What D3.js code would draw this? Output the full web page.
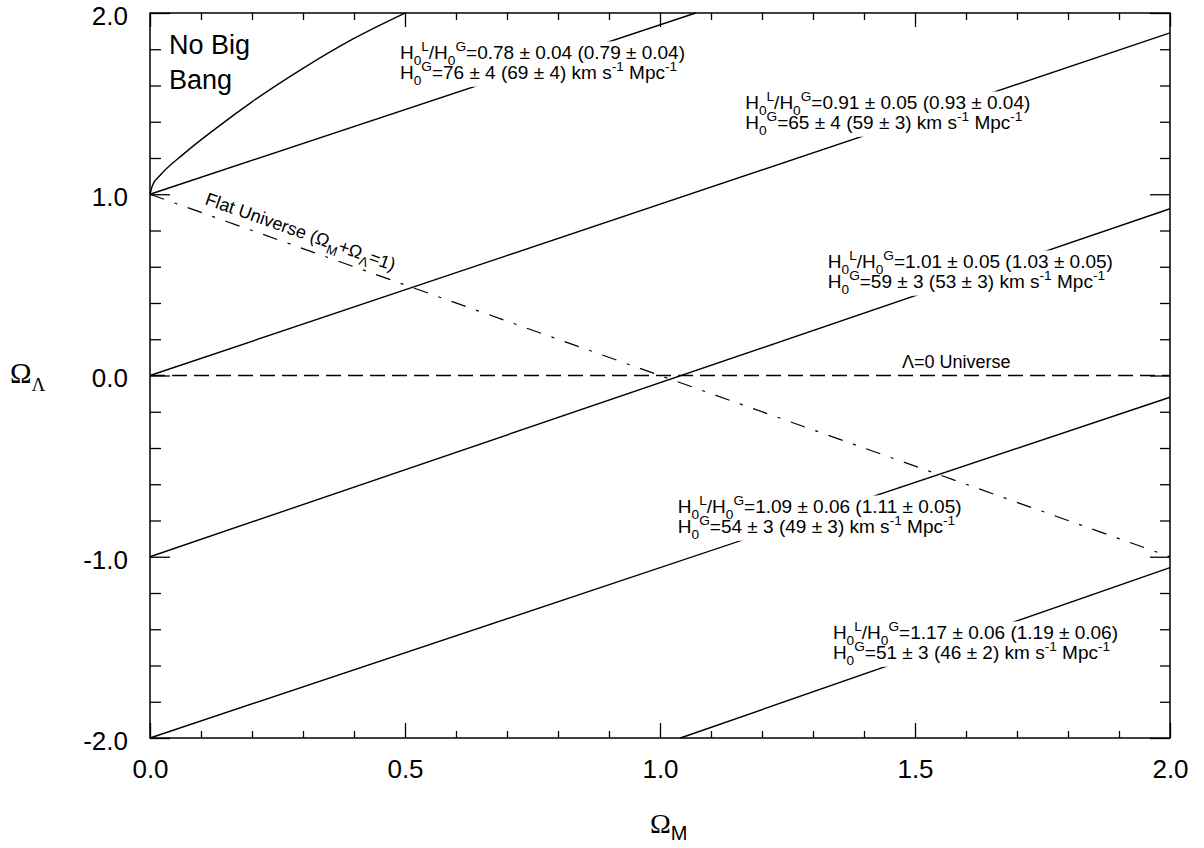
<!DOCTYPE html>
<html>
<head>
<meta charset="utf-8">
<script src="https://cdn.jsdelivr.net/npm/d3@7"></script>
<style>
  body { margin: 0; background: #fff; }
  svg { display: block; }
  text { font-family: "Liberation Sans", Arial, sans-serif; fill: #000; }
</style>
</head>
<body>
<div id="vis"></div>
<script>
const FRAME_WIDTH = 1204;
const FRAME_HEIGHT = 848;
const MARGINS = {left: 150, right: 34, top: 13, bottom: 110};

// data
const OM_MAJOR = [0, 0.5, 1.0, 1.5, 2.0];
const OM_LABELS = ["0.0", "0.5", "1.0", "1.5", "2.0"];
const OM_MINOR = [0.1, 0.2, 0.3, 0.4, 0.6, 0.7, 0.8, 0.9, 1.1, 1.2, 1.3, 1.4, 1.6, 1.7, 1.8, 1.9];
const OL_MAJOR = [-2, -1, 0, 1, 2];
const OL_LABELS = ["-2.0", "-1.0", "0.0", "1.0", "2.0"];
const OL_MINOR = [-1.8, -1.6, -1.4, -1.2, -0.8, -0.6, -0.4, -0.2, 0.2, 0.4, 0.6, 0.8, 1.2, 1.4, 1.6, 1.8];

// "No Big Bang" boundary
const BB_OM = [0, 0.005, 0.02, 0.065, 0.13, 0.2, 0.3, 0.4, 0.5];
const BB_OL = [1, 1.05, 1.105, 1.22, 1.365, 1.51, 1.695, 1.86, 2.0];

// H0 ratio lines (end points)
const RATIO_OM = [[0, 1.07], [0, 2], [0, 2], [0, 2], [1.04, 2]];
const RATIO_OL = [[1, 2], [0, 1.89], [-1, 0.92], [-2, -0.12], [-2, -1.06]];
const RATIO_LINE1 = [
  "H_0^L/H_0^G=0.78 ± 0.04 (0.79 ± 0.04)",
  "H_0^L/H_0^G=0.91 ± 0.05 (0.93 ± 0.04)",
  "H_0^L/H_0^G=1.01 ± 0.05 (1.03 ± 0.05)",
  "H_0^L/H_0^G=1.09 ± 0.06 (1.11 ± 0.05)",
  "H_0^L/H_0^G=1.17 ± 0.06 (1.19 ± 0.06)"
];
const RATIO_LINE2 = [
  "H_0^G=76 ± 4 (69 ± 4) km s^-1 Mpc^-1",
  "H_0^G=65 ± 4 (59 ± 3) km s^-1 Mpc^-1",
  "H_0^G=59 ± 3 (53 ± 3) km s^-1 Mpc^-1",
  "H_0^G=54 ± 3 (49 ± 3) km s^-1 Mpc^-1",
  "H_0^G=51 ± 3 (46 ± 2) km s^-1 Mpc^-1"
];

// reference lines
const FLAT_OM = [0, 2];
const FLAT_OL = [1, -1];
const LAMBDA0_OM = [0, 2];
const LAMBDA0_OL = [0, 0];

// where the labels sit (data units, start of first line)
const LABEL_POS = [[0.49, 1.746], [1.167, 1.47], [1.329, 0.593], [1.035, -0.759], [1.339, -1.454]];

const FRAME =
  d3.select("#vis")
    .append("svg")
      .attr("width", FRAME_WIDTH)
      .attr("height", FRAME_HEIGHT);

const xScale = d3.scaleLinear()
  .domain([0, 2])
  .range([MARGINS.left, FRAME_WIDTH - MARGINS.right]);

const yScale = d3.scaleLinear()
  .domain([-2, 2])
  .range([FRAME_HEIGHT - MARGINS.bottom, MARGINS.top]);

const X0 = xScale(0), X1 = xScale(2), Y0 = yScale(-2), Y1 = yScale(2);

// axes: ticks point inward, majors longer
function axis(gen, vals, size, pad, labels, tx, ty) {
  const g = FRAME.append("g")
    .attr("transform", "translate(" + tx + "," + ty + ")")
    .call(gen.tickValues(vals).tickSize(-size).tickPadding(pad)
      .tickFormat(labels ? (d, i) => labels[i] : ""));
  g.select(".domain").remove();
  g.selectAll("line").attr("stroke-width", 1.3);
  g.selectAll("text")
    .attr("font-family", '"Liberation Sans", Arial, sans-serif')
    .attr("font-size", 26);
  return g;
}
axis(d3.axisLeft(yScale), OL_MAJOR, 20, 22, OL_LABELS, X0, 0)
  .selectAll("text").attr("dy", "0.44em");
axis(d3.axisLeft(yScale), OL_MINOR, 11, 0, null, X0, 0);
axis(d3.axisRight(yScale), OL_MAJOR, 20, 0, null, X1, 0);
axis(d3.axisRight(yScale), OL_MINOR, 10, 0, null, X1, 0);
axis(d3.axisBottom(xScale), OM_MAJOR, 15, 22, OM_LABELS, 0, Y0);
axis(d3.axisBottom(xScale), OM_MINOR, 7, 0, null, 0, Y0);
axis(d3.axisTop(xScale), OM_MAJOR, 14, 0, null, 0, Y1);
axis(d3.axisTop(xScale), OM_MINOR, 7, 0, null, 0, Y1);

// frame
FRAME.append("rect")
  .attr("x", X0).attr("y", Y1)
  .attr("width", X1 - X0).attr("height", Y0 - Y1)
  .attr("fill", "none").attr("stroke", "#000").attr("stroke-width", 1.5);

const line = d3.line()
  .x((d) => xScale(d[0]))
  .y((d) => yScale(d[1]));

const PLOT = FRAME.append("g");

// flat universe and lambda = 0
PLOT.append("path")
  .attr("d", line(FLAT_OM.map((d, i) => [d, FLAT_OL[i]])))
  .attr("fill", "none").attr("stroke", "#000").attr("stroke-width", 1.2)
  .attr("stroke-dasharray", "15,11,3,11");
PLOT.append("path")
  .attr("d", line(LAMBDA0_OM.map((d, i) => [d, LAMBDA0_OL[i]])))
  .attr("fill", "none").attr("stroke", "#000").attr("stroke-width", 1.3)
  .attr("stroke-dasharray", "15,7");

// ratio lines
PLOT.selectAll(".ratio")
  .data(RATIO_OM.map((d, i) => [[d[0], RATIO_OL[i][0]], [d[1], RATIO_OL[i][1]]]))
  .enter()
  .append("path")
    .attr("class", "ratio")
    .attr("d", (d) => line(d))
    .attr("fill", "none").attr("stroke", "#000").attr("stroke-width", 1.4);

// no big bang curve
PLOT.append("path")
  .attr("d", d3.line()
    .x((d) => xScale(d[0]))
    .y((d) => yScale(d[1]))
    .curve(d3.curveMonotoneX)(BB_OM.map((d, i) => [d, BB_OL[i]])))
  .attr("fill", "none").attr("stroke", "#000").attr("stroke-width", 1.4);

// text with _x subscripts and ^x superscripts
function richText(t, str, size) {
  const parts = str.match(/[_^]-?[^\s_^]|[^_^]+/g);
  let shift = 0;
  parts.forEach((p) => {
    let target = 0, fs = size, s = p;
    if (p[0] === "_") { target = size * 0.3; fs = size * 0.72; s = p.slice(1); }
    else if (p[0] === "^") { target = -size * 0.4; fs = size * 0.72; s = p.slice(1); }
    t.append("tspan")
      .attr("dy", target - shift)
      .attr("font-size", fs)
      .text(s);
    shift = target;
  });
}

const LABELS = FRAME.append("g");
LABEL_POS.forEach((p, i) => {
  const g = LABELS.append("g");
  const bg = g.append("rect").attr("fill", "#fff");
  const x = xScale(p[0]), y = yScale(p[1]);
  const t1 = g.append("text").attr("x", x).attr("y", y).attr("font-size", 19);
  richText(t1, RATIO_LINE1[i], 19);
  const t2 = g.append("text").attr("x", x).attr("y", y + 20).attr("font-size", 19);
  richText(t2, RATIO_LINE2[i], 19);
  const b1 = t1.node().getBBox(), b2 = t2.node().getBBox();
  const x0 = Math.min(b1.x, b2.x) - 3, x1 = Math.max(b1.x + b1.width, b2.x + b2.width) + 3;
  const y0 = b1.y + 2, y1 = b2.y + b2.height - 1;
  bg.attr("x", x0).attr("y", y0).attr("width", x1 - x0).attr("height", y1 - y0);
});

// No Big Bang
const nbb = FRAME.append("text").attr("font-size", 27);
nbb.append("tspan").attr("x", 169).attr("y", 54).text("No Big");
nbb.append("tspan").attr("x", 169).attr("y", 89).text("Bang");

// Flat universe label, along the dash-dot line
const ang = Math.atan2(yScale(FLAT_OL[1]) - yScale(FLAT_OL[0]), xScale(FLAT_OM[1]) - xScale(FLAT_OM[0])) * 180 / Math.PI;
const fx = 0.1, fy = FLAT_OL[0] + (FLAT_OL[1] - FLAT_OL[0]) * fx / (FLAT_OM[1] - FLAT_OM[0]);
const flat = FRAME.append("text")
  .attr("transform", "translate(" + xScale(fx) + "," + yScale(fy) + ") rotate(" + ang + ")")
  .attr("x", 0).attr("y", -9).attr("font-size", 18);
richText(flat, "Flat Universe (Ω_M+Ω_Λ=1)", 18);

// lambda = 0 label
FRAME.append("text")
  .attr("x", 902).attr("y", yScale(0) - 8)
  .attr("font-size", 18)
  .text("Λ=0 Universe");

// axis titles
const yt = FRAME.append("text").attr("x", 10).attr("y", 383);
yt.append("tspan").attr("font-family", '"Liberation Serif", serif').attr("font-size", 29).text("Ω");
yt.append("tspan").attr("font-family", '"Liberation Serif", serif').attr("font-size", 19).attr("dy", 8).text("Λ");

const xt = FRAME.append("text").attr("x", 650).attr("y", 833);
xt.append("tspan").attr("font-family", '"Liberation Serif", serif').attr("font-size", 28).text("Ω");
xt.append("tspan").attr("font-size", 20).attr("dy", 7).text("M");
</script>
</body>
</html>
